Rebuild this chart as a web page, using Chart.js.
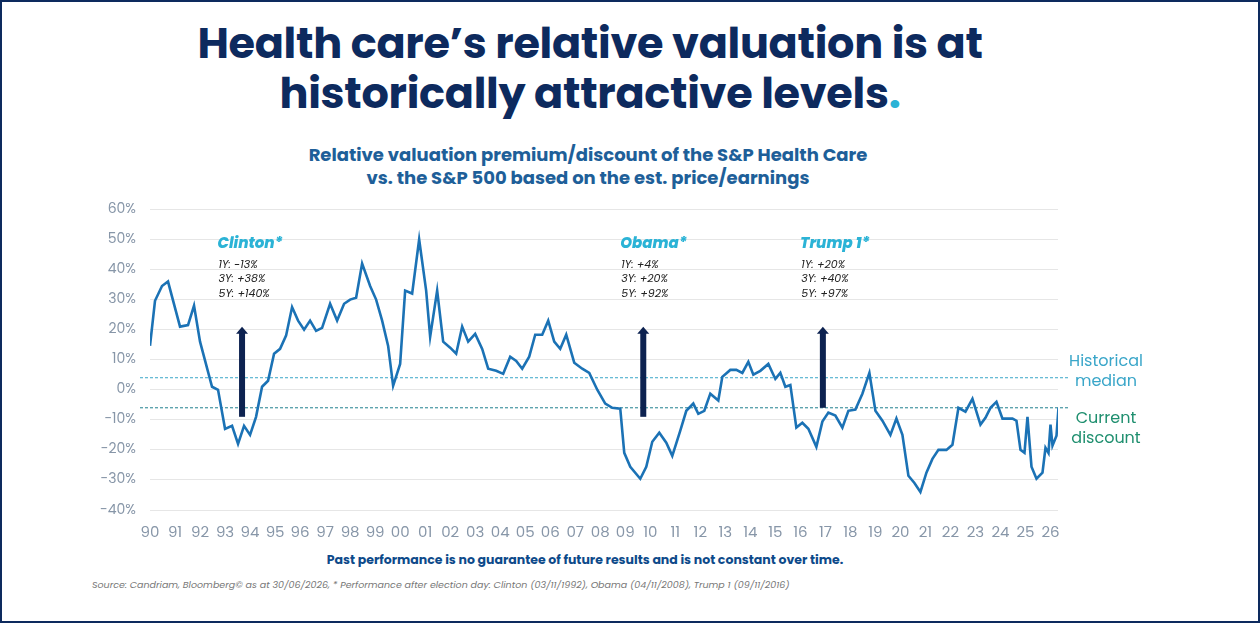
<!DOCTYPE html>
<html>
<head>
<meta charset="utf-8">
<script src="https://cdn.jsdelivr.net/npm/chart.js@4.4.1/dist/chart.umd.min.js"></script>
<style>
  html, body { margin: 0; padding: 0; }
  body { width: 1260px; height: 623px; position: relative; background: #fff; font-family: Poppins, "Noto Sans", sans-serif; overflow: hidden; }
  .frame { position: absolute; left: 0; top: 0; width: 1256px; height: 619px; border: 2px solid #0d2a5e; }
  h1 { position: absolute; left: 90px; width: 1000px; top: 18px; margin: 0; text-align: center; font-family: Poppins, "Noto Sans", sans-serif; font-weight: 700; font-size: 43px; line-height: 50px; color: #0d2a5e; letter-spacing: -0.3px; }
  h1 span { color: #2bb3d6; }
  .subtitle { position: absolute; left: 188px; width: 800px; top: 143px; text-align: center; font-weight: 700; font-size: 18px; line-height: 23px; color: #1e5f99; }
  .disclaimer { position: absolute; left: 0; width: 1170px; top: 551px; text-align: center; font-weight: 700; font-size: 12.5px; color: #0d4a8a; }
  .source { position: absolute; left: 92px; top: 578px; font-style: italic; font-size: 9.5px; color: #777; }
  .chart-box { position: absolute; left: 80px; top: 187px; width: 1090px; height: 361px; }
</style>
</head>
<body>
<div class="frame"></div>
<h1>Health care’s relative valuation is at<br>historically attractive levels<span>.</span></h1>
<div class="subtitle">Relative valuation premium/discount of the S&amp;P Health Care<br>vs. the S&amp;P 500 based on the est. price/earnings</div>
<div class="chart-box"><canvas id="val-chart"></canvas></div>
<div class="disclaimer">Past performance is no guarantee of future results and is not constant over time.</div>
<div class="source">Source: Candriam, Bloomberg© as at 30/06/2026, * Performance after election day: Clinton (03/11/1992), Obama (04/11/2008), Trump 1 (09/11/2016)</div>

<script>
////////////////////////////////////////////////////////////////////////////////////////////
// Data
////////////////////////////////////////////////////////////////////////////////////////////

// [year, premium/discount %]
const valuation = [
    [1990.00, 14.6], [1990.20, 29.6], [1990.48, 34.5], [1990.72, 36], [1991.04, 26],
    [1991.20, 21], [1991.52, 21.5], [1991.76, 28], [1992.00, 16], [1992.48, 1],
    [1992.72, 0], [1993.00, -13], [1993.28, -12], [1993.52, -18], [1993.76, -12],
    [1994.00, -15], [1994.24, -9], [1994.48, 1], [1994.72, 3], [1994.96, 12],
    [1995.20, 13.6], [1995.44, 18], [1995.68, 27.5], [1995.92, 23], [1996.16, 20],
    [1996.40, 23], [1996.64, 19.6], [1996.88, 20.6], [1997.20, 28.6], [1997.48, 23],
    [1997.76, 28.6], [1998.00, 30], [1998.24, 30.6], [1998.48, 42], [1998.80, 34.5],
    [1999.04, 30], [1999.28, 23], [1999.52, 14.6], [1999.72, 1.3], [2000.00, 8.6],
    [2000.20, 33], [2000.48, 32], [2000.76, 50], [2001.04, 33], [2001.20, 17.6],
    [2001.48, 33], [2001.72, 16], [2002.00, 14], [2002.24, 12], [2002.48, 21],
    [2002.72, 16], [2003.00, 18.6], [2003.28, 13.6], [2003.52, 7], [2003.84, 6.3],
    [2004.12, 5.3], [2004.40, 11], [2004.64, 9.6], [2004.88, 7], [2005.16, 11],
    [2005.40, 18.3], [2005.68, 18.3], [2005.92, 23], [2006.16, 16], [2006.40, 13.6],
    [2006.64, 18.3], [2006.96, 9], [2007.28, 7], [2007.56, 5.6], [2007.88, 0],
    [2008.20, -4.6], [2008.48, -6], [2008.80, -6.3], [2008.96, -21], [2009.20, -25.6],
    [2009.60, -29.6], [2009.84, -25.6], [2010.08, -17.3], [2010.36, -14.3], [2010.64, -17.6],
    [2010.88, -22], [2011.20, -13.6], [2011.44, -7], [2011.72, -4.6], [2011.92, -8],
    [2012.16, -7], [2012.40, -1.3], [2012.72, -3.6], [2012.88, 4.3], [2013.20, 6.6],
    [2013.44, 6.6], [2013.68, 5.6], [2013.92, 9.3], [2014.12, 5], [2014.40, 6.3],
    [2014.72, 8.6], [2015.00, 3.6], [2015.20, 5.6], [2015.40, 1], [2015.60, 1.6],
    [2015.84, -12.6], [2016.08, -11], [2016.32, -13], [2016.64, -19], [2016.88, -10.6],
    [2017.12, -7.6], [2017.40, -8.6], [2017.68, -12.6], [2017.92, -7], [2018.20, -6.6],
    [2018.48, -1.3], [2018.76, 5.6], [2019.00, -7], [2019.28, -10.3], [2019.60, -15],
    [2019.84, -9.6], [2020.08, -15], [2020.32, -28.6], [2020.56, -31], [2020.80, -34],
    [2021.04, -27.6], [2021.28, -23], [2021.52, -20], [2021.84, -20], [2022.08, -18.3],
    [2022.32, -6], [2022.60, -7.3], [2022.88, -3], [2023.20, -11.6], [2023.40, -9.3],
    [2023.60, -6], [2023.84, -4], [2024.08, -9.6], [2024.48, -9.6], [2024.64, -10.3],
    [2024.80, -20], [2024.96, -21], [2025.08, -9], [2025.24, -25.6], [2025.44, -29.6],
    [2025.68, -27.6], [2025.80, -19.3], [2025.92, -21], [2026.00, -11.6], [2026.08, -18.6],
    [2026.24, -15.3], [2026.32, -6]
];

const median = 4;
const current = -6;

// Election markers: arrow position, arrow range and the returns after election day
const elections = [
    { name: 'Clinton*', x: 1993.68, from: -9, to: 21, labelX: 1992.7, lines: ['1Y: -13%', '3Y: +38%', '5Y: +140%'] },
    { name: 'Obama*',   x: 2009.72, from: -9, to: 21, labelX: 2008.8, lines: ['1Y: +4%', '3Y: +20%', '5Y: +92%'] },
    { name: 'Trump 1*', x: 2016.90, from: -6, to: 21, labelX: 2016.0, lines: ['1Y: +20%', '3Y: +40%', '5Y: +97%'] }
];

////////////////////////////////////////////////////////////////////////////////////////////
// Annotation plugin (median lines, arrows, election text)
////////////////////////////////////////////////////////////////////////////////////////////

const annotations = {
    id: 'annotations',
    beforeDatasetsDraw(chart) {
        const { ctx, chartArea, scales: { y } } = chart;
        ctx.save();
        ctx.setLineDash([3, 2]);
        ctx.lineWidth = 1;
        ctx.strokeStyle = '#3aa6c9';
        ctx.beginPath();
        ctx.moveTo(chartArea.left - 10, y.getPixelForValue(median));
        ctx.lineTo(chartArea.right + 12, y.getPixelForValue(median));
        ctx.stroke();
        ctx.strokeStyle = '#1f7f8f';
        ctx.beginPath();
        ctx.moveTo(chartArea.left - 10, y.getPixelForValue(current));
        ctx.lineTo(chartArea.right + 12, y.getPixelForValue(current));
        ctx.stroke();
        ctx.restore();
    },
    afterDatasetsDraw(chart) {
        const { ctx, chartArea, scales: { x, y } } = chart;
        ctx.save();

        elections.forEach(e => {
            // arrow
            const px = x.getPixelForValue(e.x);
            const y0 = y.getPixelForValue(e.from);
            const y1 = y.getPixelForValue(e.to);
            ctx.fillStyle = '#0d2250';
            ctx.fillRect(px - 3, y1 + 6, 6, y0 - y1 - 6);
            ctx.beginPath();
            ctx.moveTo(px - 6, y1 + 7);
            ctx.lineTo(px, y1);
            ctx.lineTo(px + 6, y1 + 7);
            ctx.closePath();
            ctx.fill();

            // election text
            const lx = x.getPixelForValue(e.labelX);
            ctx.fillStyle = '#2bb3d6';
            ctx.font = 'italic 800 15px Poppins, "Noto Sans", sans-serif';
            ctx.textBaseline = 'middle';
            ctx.fillText(e.name, lx, y.getPixelForValue(48.5));
            ctx.fillStyle = '#222';
            ctx.font = 'italic 11px Poppins, "Noto Sans", sans-serif';
            e.lines.forEach((t, i) => ctx.fillText(t, lx + 1, y.getPixelForValue(41.5 - i * 4.8)));
        });

        // right hand labels
        ctx.font = '16px Poppins, "Noto Sans", sans-serif';
        ctx.textAlign = 'center';
        ctx.fillStyle = '#3aa6c9';
        const rx = chartArea.right + 48;
        ctx.fillText('Historical', rx, y.getPixelForValue(median) - 16);
        ctx.fillText('median', rx, y.getPixelForValue(median) + 4);
        ctx.fillStyle = '#1f8f6f';
        ctx.fillText('Current', rx, y.getPixelForValue(current) + 11);
        ctx.fillText('discount', rx, y.getPixelForValue(current) + 31);
        ctx.restore();
    }
};

////////////////////////////////////////////////////////////////////////////////////////////
// Chart.JS
////////////////////////////////////////////////////////////////////////////////////////////

const ctx = document.getElementById('val-chart').getContext('2d');

let valChart = new Chart(ctx, {
    type: 'line',
    data: {
        datasets: [{
            label: 'Relative valuation',
            data: valuation.map(p => ({ x: p[0], y: p[1] })),
            borderColor: '#1b72b5',
            borderWidth: 2.6,
            pointRadius: 0,
            tension: 0,
            fill: false
        }]
    },
    options: {
        responsive: true,
        maintainAspectRatio: false,
        animation: false,
        layout: { padding: { top: 0, right: 112, left: 0, bottom: 0 } },
        plugins: {
            legend: { display: false },
            tooltip: { enabled: false }
        },
        scales: {
            x: {
                type: 'linear',
                min: 1990,
                max: 2026.3,
                grid: { display: false },
                border: { display: false },
                afterBuildTicks: scale => {
                    // one tick per year, 1990-2026
                    const t = [];
                    for (let yr = 1990; yr <= 2026; yr++) t.push({ value: yr });
                    scale.ticks = t;
                },
                ticks: {
                    autoSkip: false,
                    maxRotation: 0,
                    color: '#8796a8',
                    font: { size: 15, family: 'Poppins, "Noto Sans", sans-serif' },
                    padding: 6,
                    callback: v => String(v % 100).padStart(2, '0')
                }
            },
            y: {
                min: -40,
                max: 60,
                afterFit: scale => { scale.width = 70; },
                grid: { color: '#e6e6e6', drawTicks: false },
                border: { display: false },
                ticks: {
                    stepSize: 10,
                    color: '#8796a8',
                    padding: 14,
                    font: { size: 14, family: 'Poppins, "Noto Sans", sans-serif' },
                    callback: v => v + '%'
                }
            }
        }
    },
    plugins: [annotations]
});
</script>
</body>
</html>
